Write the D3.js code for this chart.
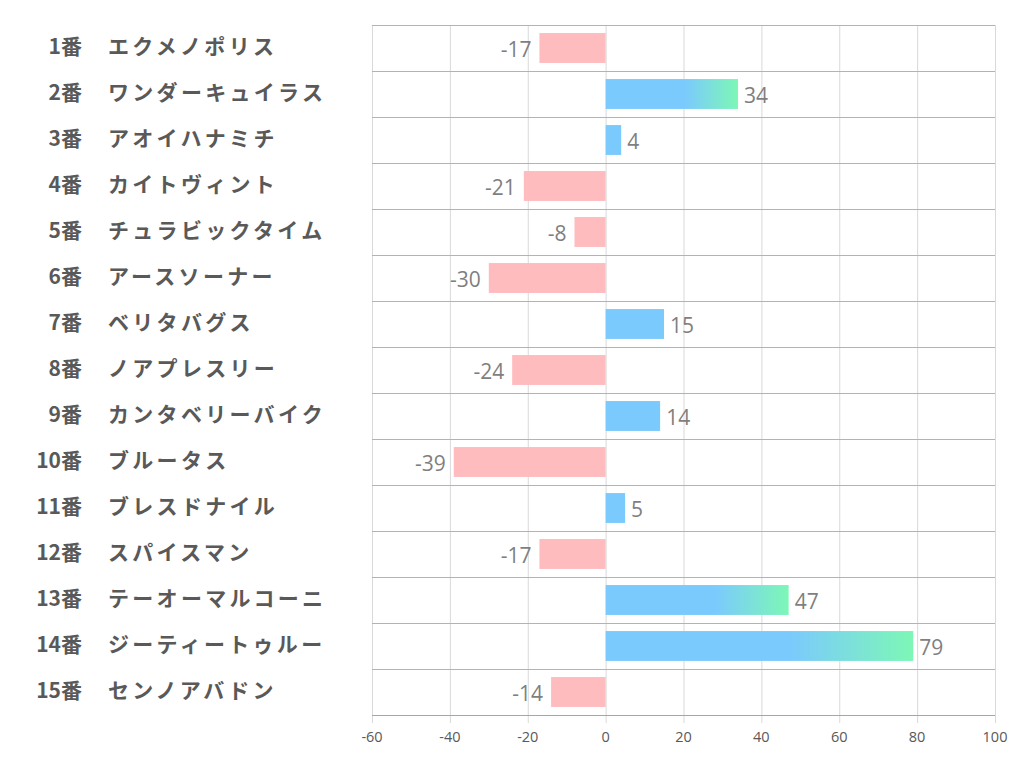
<!DOCTYPE html>
<html><head><meta charset="utf-8">
<script src="https://cdn.jsdelivr.net/npm/d3@7"></script>
<style>body{margin:0;background:#fff}</style>
</head><body>
<svg id="c" width="1022" height="782"></svg>
<script>
const numbers = ["1番","2番","3番","4番","5番","6番","7番","8番","9番","10番","11番","12番","13番","14番","15番"];
const horses = ["エクメノポリス","ワンダーキュイラス","アオイハナミチ","カイトヴィント","チュラビックタイム","アースソーナー","ベリタバグス","ノアプレスリー","カンタベリーバイク","ブルータス","ブレスドナイル","スパイスマン","テーオーマルコーニ","ジーティートゥルー","センノアバドン"];
const values = [-17,34,4,-21,-8,-30,15,-24,14,-39,5,-17,47,79,-14];
const xTicks = [-60,-40,-20,0,20,40,60,80,100];

(function(){
const svg = d3.select("#c");
const pL = 372, pR = 995, pT = 25, pB = 715;
const x = d3.scaleLinear().domain([-60,100]).range([pL,pR]);
const y = d3.scaleBand().domain(d3.range(values.length)).range([pT,pB]).paddingInner(0.35).paddingOuter(0.175);
const yRow = d3.scaleBand().domain(d3.range(values.length)).range([pT,pB]);

const defs = svg.append("defs");
values.forEach((v,i)=>{
  const g = defs.append("linearGradient").attr("id","g"+i).attr("x1","0").attr("x2","1").attr("y1","0").attr("y2","0");
  g.append("stop").attr("offset","0").attr("stop-color","#7bcafd");
  g.append("stop").attr("offset", "0.6").attr("stop-color","#7bcafd");
  g.append("stop").attr("offset","1").attr("stop-color", v>=30 ? "#7df7b6" : "#7bcafd");
});

svg.append("g").selectAll("line").data(xTicks).join("line")
  .attr("x1",d=>x(d)+0.5).attr("x2",d=>x(d)+0.5).attr("y1",pT).attr("y2",pB+8)
  .attr("stroke","#d9d9d9").attr("stroke-width",1);
svg.append("g").selectAll("line").data(d3.range(values.length+1)).join("line")
  .attr("x1",pL).attr("x2",pR).attr("y1",d=>pT+d*yRow.step()+0.5).attr("y2",d=>pT+d*yRow.step()+0.5)
  .attr("stroke",d=>d===values.length?"#a6a6a6":"#b3b3b3").attr("stroke-width",1);

svg.append("g").selectAll("rect").data(values).join("rect")
  .attr("x",d=>x(Math.min(0,d))).attr("width",d=>Math.abs(x(d)-x(0)))
  .attr("y",(d,i)=>y(i)).attr("height",y.bandwidth())
  .attr("fill",(d,i)=>d<0?"#ffbcbf":`url(#g${i})`);

svg.append("g").selectAll("text").data(values).join("text")
  .attr("x",d=>d<0?x(d)-8:x(d)+6)
  .attr("y",(d,i)=>y(i)+y.bandwidth()/2+9)
  .attr("text-anchor",d=>d<0?"end":"start")
  .attr("font-family","'Open Sans','Noto Sans',sans-serif").attr("font-size",21)
  .attr("fill","#7f7f7f").text(d=>d);

svg.append("g").selectAll("text").data(xTicks).join("text")
  .attr("x",d=>x(d)).attr("y",742).attr("text-anchor","middle")
  .attr("font-family","'Open Sans','Noto Sans',sans-serif").attr("font-size",14.5)
  .attr("fill","#595959").text(d=>d);

const yl = svg.append("g").attr("font-family","'Noto Sans CJK JP',sans-serif").attr("font-weight","bold").attr("fill","#595959").attr("font-size",21);
yl.selectAll("text.n").data(numbers).join("text").attr("class","n")
  .attr("x",82).attr("y",(d,i)=>yRow(i)+yRow.bandwidth()/2+6).attr("text-anchor","end").text(d=>d);
yl.selectAll("text.h").data(horses).join("text").attr("class","h")
  .attr("x",108).attr("y",(d,i)=>yRow(i)+yRow.bandwidth()/2+6).attr("letter-spacing",3.3).text(d=>d);
})();
</script>
</body></html>
